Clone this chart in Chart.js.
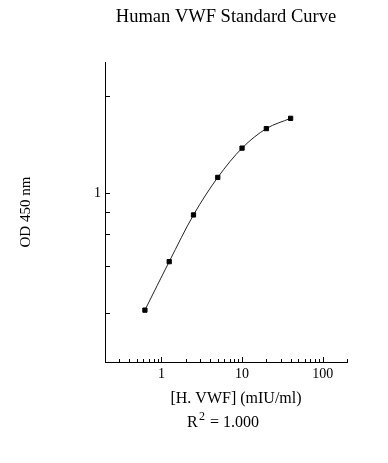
<!DOCTYPE html>
<html>
<head>
<meta charset="utf-8">
<script src="https://cdn.jsdelivr.net/npm/chart.js@4.4.1/dist/chart.umd.min.js"></script>
<style>
  body { margin: 0; background: #fff; }
</style>
</head>
<body>
<canvas id="curve" width="388" height="463"></canvas>
<script>
var concentrations = [0.625, 1.25, 2.5, 5, 10, 20, 40]; // mIU/ml
var odValues = [0.434, 0.613, 0.855, 1.117, 1.376, 1.581, 1.701];
var xTickValues = [0.2, 0.3, 0.4, 0.5, 0.6, 0.7, 0.8, 0.9, 1, 2, 3, 4, 5, 6, 7, 8, 9, 10,
                   20, 30, 40, 50, 60, 70, 80, 90, 100, 200];
var xTickLabels = { 1: '1', 10: '10', 100: '100' };
var yTickValues = [0.424, 0.596, 0.745, 0.873, 1, 2];
var yTickLabels = { 1: '1' };

var serif = "'Liberation Serif', 'Times New Roman', serif";

// ticks point into the plot, so draw them ourselves from the scales
var innerTicks = {
    id: 'innerTicks',
    afterDraw: function (chart) {
        var ctx = chart.ctx;
        var xs = chart.scales.x, ys = chart.scales.y;
        ctx.save();
        ctx.strokeStyle = '#000';
        ctx.lineWidth = 1;
        ctx.beginPath();
        xs.ticks.forEach(function (t) {
            var px = Math.round(xs.getPixelForValue(t.value)) + 0.5;
            var len = xTickLabels[t.value] ? 5 : 3;
            ctx.moveTo(px, xs.top);
            ctx.lineTo(px, xs.top - len);
        });
        ys.ticks.forEach(function (t) {
            var py = Math.round(ys.getPixelForValue(t.value)) + 0.5;
            ctx.moveTo(ys.right, py);
            ctx.lineTo(ys.right + 5, py);
        });
        ctx.stroke();

        // text under the x axis
        var mid = (chart.chartArea.left + chart.chartArea.right) / 2;
        ctx.fillStyle = '#000';
        ctx.textAlign = 'center';
        ctx.textBaseline = 'middle';
        ctx.font = '16px ' + serif;
        ctx.fillText('[H. VWF] (mIU/ml)', mid + 10, 399);

        ctx.textAlign = 'left';
        ctx.textBaseline = 'alphabetic';
        var x0 = mid - 39;
        ctx.fillText('R', x0, 427);
        ctx.font = '12px ' + serif;
        ctx.fillText('2', x0 + 12, 420);
        ctx.font = '16px ' + serif;
        ctx.fillText('= 1.000', x0 + 23, 427);
        ctx.restore();
    }
};

new Chart(document.getElementById('curve'), {
    type: 'line',
    data: {
        datasets: [{
            data: concentrations.map(function (c, i) { return { x: c, y: odValues[i] }; }),
            borderColor: '#222',
            borderWidth: 1,
            cubicInterpolationMode: 'monotone',
            pointStyle: 'rect',
            pointRadius: 3,
            pointBorderWidth: 1,
            pointBackgroundColor: '#000',
            pointBorderColor: '#000',
            fill: false
        }]
    },
    options: {
        responsive: false,
        animation: false,
        layout: { padding: { left: 0, right: 41, top: 0, bottom: 0 } },
        plugins: {
            legend: { display: false },
            tooltip: { enabled: false },
            title: {
                display: true,
                text: 'Human VWF Standard Curve',
                fullSize: false,
                color: '#000',
                font: { family: serif, size: 18.5, weight: 'normal' },
                padding: { top: 6, bottom: 34 }
            }
        },
        scales: {
            x: {
                type: 'logarithmic',
                min: 0.2,
                max: 200,
                afterBuildTicks: function (scale) {
                    scale.ticks = xTickValues.map(function (v) { return { value: v }; });
                },
                afterFit: function (scale) { scale.height = 101; },
                grid: { display: false, drawTicks: false },
                border: { display: true, color: '#000', width: 1 },
                ticks: {
                    autoSkip: false,
                    maxRotation: 0,
                    padding: 4,
                    color: '#000',
                    font: { family: serif, size: 14 },
                    callback: function (v) { return xTickLabels[v] || ''; }
                }
            },
            y: {
                type: 'logarithmic',
                min: 0.3065,
                max: 2.537,
                afterBuildTicks: function (scale) {
                    scale.ticks = yTickValues.map(function (v) { return { value: v }; });
                },
                afterFit: function (scale) { scale.width = 105; },
                grid: { display: false, drawTicks: false },
                border: { display: true, color: '#000', width: 1 },
                title: {
                    display: true,
                    text: 'OD 450 nm',
                    color: '#000',
                    font: { family: serif, size: 15 },
                    padding: { top: 17, bottom: 0 }
                },
                ticks: {
                    autoSkip: false,
                    padding: 4,
                    color: '#000',
                    font: { family: serif, size: 14 },
                    callback: function (v) { return yTickLabels[v] || ''; }
                }
            }
        }
    },
    plugins: [innerTicks]
});
</script>
</body>
</html>
